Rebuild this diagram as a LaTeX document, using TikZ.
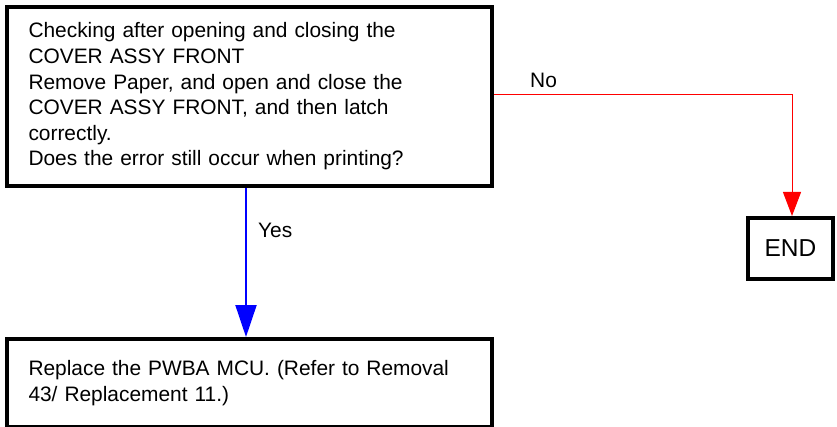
\documentclass[tikz,border=0pt]{standalone}
\usepackage{fontspec}
\setmainfont{Liberation Sans}
\usetikzlibrary{arrows.meta}
\begin{document}
\begin{tikzpicture}[x=1pt,y=-1pt,
  box/.style={draw=black,line width=4pt,fill=white,rectangle,inner xsep=21pt,inner ysep=0pt,
    align=left,font=\fontsize{20.9}{25.6}\selectfont,anchor=north west},
  lbl/.style={font=\fontsize{20.9}{24}\selectfont,inner sep=0pt},
  yesline/.style={draw=blue,line width=2pt,-{Triangle[length=32pt,width=21pt]}},
  noline/.style={draw=red,line width=1pt,-{Triangle[length=24pt,width=18pt]}}]
\useasboundingbox (0,0) rectangle (837,427);
\node[box,minimum width=485pt,minimum height=179pt,text width=442pt] (q) at (5,5)
  {Checking after opening and closing the\\COVER ASSY FRONT\\Remove Paper, and open and close the\\COVER ASSY FRONT, and then latch\\correctly.\\Does the error still occur when printing?};
\node[box,minimum width=485pt,minimum height=88pt,text width=442pt] (r) at (5,337)
  {Replace the PWBA MCU. (Refer to Removal\\43/ Replacement 11.)};
\node[box,minimum width=85pt,minimum height=61pt,align=center,inner xsep=0pt,font=\fontsize{24.5}{28}\selectfont] (e) at (746,216) {END};
\coordinate (c) at (792,95);
\draw[yesline] (q.south -| 246,0) -- (r.north -| 246,0);
\draw[noline] (q.east |- c) -- (c) -- (e.north -| c);
\node[lbl,anchor=west] at (530,80) {No};
\node[lbl,anchor=west] at (258,230) {Yes};
\end{tikzpicture}
\end{document}
